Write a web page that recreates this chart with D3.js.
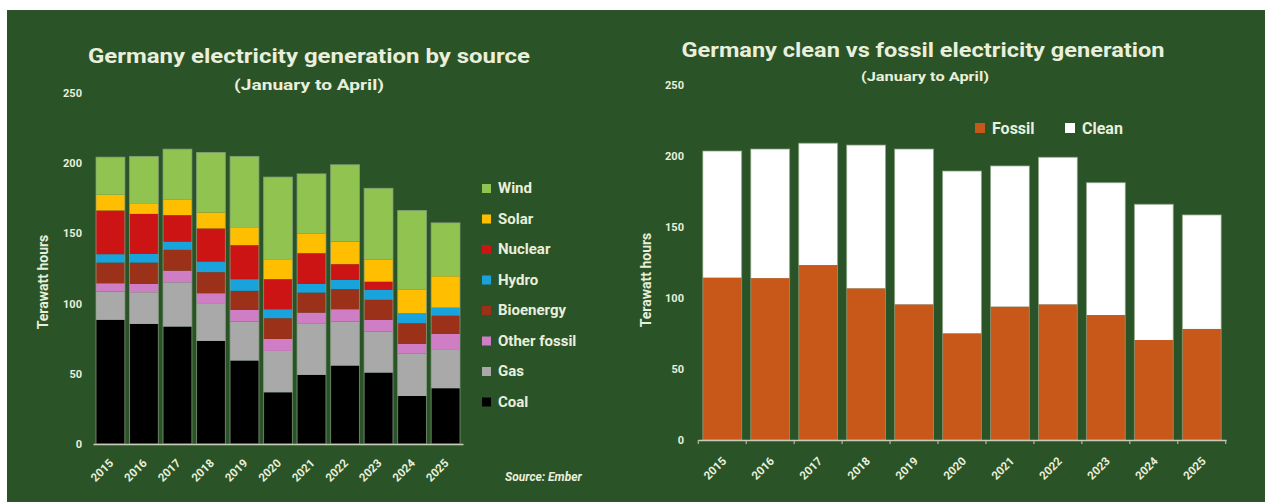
<!DOCTYPE html>
<html>
<head>
<meta charset="utf-8">
<script src="https://cdn.jsdelivr.net/npm/d3@7"></script>
<style>
  html, body { margin: 0; padding: 0; background: #ffffff; }
  svg { display: block; }
  text { font-family: Roboto, "Open Sans", sans-serif; font-weight: 700; fill: #e9efdc; }
</style>
</head>
<body>
<svg id="chart" width="1265" height="502"></svg>
<script>
// Years shown on both panels
const years = ["2015","2016","2017","2018","2019","2020","2021","2022","2023","2024","2025"];

// Generation by source, TWh (January to April)
const coal        = [88.4, 85.5, 83.6, 73.4, 59.4, 36.8, 49.2, 55.8, 50.8, 34.2, 39.7];
const gas         = [20.2, 22.6, 31.6, 26.9, 27.8, 29.5, 36.8, 31.4, 29.2, 30.4, 27.3];
const otherFossil = [ 5.9,  5.9,  8.3,  7.1,  8.3,  8.5,  7.6,  8.8,  8.4,  6.7, 11.4];
const bioenergy   = [14.7, 15.2, 14.8, 15.0, 13.6, 14.8, 14.2, 14.3, 14.3, 14.7, 13.0];
const hydro       = [ 6.0,  6.2,  5.9,  7.6,  8.3,  6.4,  6.2,  6.6,  7.2,  7.1,  5.7];
const nuclear     = [31.1, 28.5, 18.8, 23.5, 24.2, 21.4, 21.9, 11.2,  5.7,  0.0,  0.0];
const solar       = [11.2,  7.6, 10.9, 11.4, 12.8, 13.7, 13.8, 16.1, 15.6, 16.7, 22.4];
const wind        = [26.8, 33.3, 36.1, 42.7, 50.4, 59.0, 42.7, 54.7, 50.9, 56.5, 38.0];

// Clean vs fossil totals, TWh
const fossil = [114.3, 114.0, 123.2, 106.8, 95.5, 75.1, 93.9, 95.5, 88.0, 70.4, 78.2];
const clean  = [ 89.2,  90.9,  85.8, 100.9, 109.4, 114.3, 99.1, 103.6, 93.2, 95.6, 80.3];

// Axis ticks
const yTicks = [0, 50, 100, 150, 200, 250];

// Series order from bottom to top of the stack
const sourceNames  = ["Coal", "Gas", "Other fossil", "Bioenergy", "Hydro", "Nuclear", "Solar", "Wind"];
const sourceSeries = [coal, gas, otherFossil, bioenergy, hydro, nuclear, solar, wind];
const sourceColors = ["#000000", "#a9a9a9", "#cf7ec6", "#9c3119", "#19a3dc", "#cc1414", "#ffbf00", "#90c350"];

const splitNames  = ["Fossil", "Clean"];
const splitSeries = [fossil, clean];
const splitColors = ["#c8581a", "#ffffff"];

const svg = d3.select("#chart");

// dark green panel background
svg.append("rect")
  .attr("x", 7).attr("y", 10)
  .attr("width", 1258).attr("height", 492)
  .attr("fill", "#2a5427");

function rowsFrom(names, series) {
  return years.map((y, i) => {
    const row = { year: y };
    names.forEach((n, k) => { row[n] = series[k][i]; });
    return row;
  });
}

function drawStacked(opts) {
  const g = svg.append("g");
  const x = d3.scaleBand().domain(years).range(opts.xRange)
    .paddingInner(opts.padIn).paddingOuter(opts.padOut);
  const y = d3.scaleLinear().domain([0, 250]).range(opts.yRange);

  const rows = rowsFrom(opts.names, opts.series);
  const stacked = d3.stack().keys(opts.names)(rows);

  g.selectAll("g.layer").data(stacked).join("g")
    .attr("class", "layer")
    .attr("fill", (d, i) => opts.colors[i])
    .selectAll("rect").data(d => d).join("rect")
      .attr("x", d => x(d.data.year))
      .attr("width", x.bandwidth())
      .attr("y", d => y(d[1]))
      .attr("height", d => Math.max(0, y(d[0]) - y(d[1])));

  // thin light outline around each column
  g.selectAll("rect.outline").data(rows).join("rect")
    .attr("class", "outline")
    .attr("x", d => x(d.year))
    .attr("width", x.bandwidth())
    .attr("y", d => y(d3.sum(opts.names, n => d[n])))
    .attr("height", d => y(0) - y(d3.sum(opts.names, n => d[n])))
    .attr("fill", "none")
    .attr("stroke", "#8fa486")
    .attr("stroke-opacity", 0.7)
    .attr("stroke-width", 1);

  // y axis labels
  const ya = g.append("g")
    .attr("transform", `translate(${opts.yLabelX},0)`)
    .call(d3.axisLeft(y).tickValues(yTicks).tickSize(0).tickPadding(0));
  ya.select(".domain").remove();
  ya.selectAll("text")
    .style("font-size", "11px").style("font-weight", "700")
    .style("font-family", "Roboto, sans-serif").attr("fill", "#e9efdc");

  // x axis
  const xa = g.append("g")
    .attr("transform", `translate(0,${y(0)})`)
    .call(d3.axisBottom(x).tickSize(0).tickPadding(0));
  xa.select(".domain").attr("stroke", "#c9ccb8").attr("stroke-width", 1.5);
  xa.selectAll(".tick text")
    .attr("text-anchor", "end")
    .attr("transform", `translate(${opts.xLabelDx},${opts.xLabelDy}) rotate(-45)`)
    .attr("dy", "0.35em")
    .style("font-size", "11.5px").style("font-weight", "700")
    .style("font-family", "Roboto, sans-serif").attr("fill", "#e9efdc");

  if (opts.boundaryTicks) {
    const step = x.step();
    const bounds = years.map(yr => x(yr) - step * x.paddingInner() / 2)
      .concat([x(years[years.length - 1]) + x.bandwidth() + step * x.paddingInner() / 2]);
    g.selectAll("line.btick").data(bounds).join("line")
      .attr("x1", d => d).attr("x2", d => d)
      .attr("y1", y(0)).attr("y2", y(0) + 4)
      .attr("stroke", "#c9ccb8").attr("stroke-width", 1);
  }

  // y axis title
  g.append("text")
    .attr("transform", `translate(${opts.yTitleX},${opts.yTitleY}) rotate(-90)`)
    .attr("text-anchor", "middle")
    .style("font-size", "14px")
    .text("Terawatt hours");

  return { x, y, g };
}

function fitText(sel, width) {
  const w = sel.node().getComputedTextLength();
  if (Math.abs(w - width) > 2) sel.attr("textLength", width).attr("lengthAdjust", "spacingAndGlyphs");
}

// ---- Left panel: generation by source ----
drawStacked({
  names: sourceNames, series: sourceSeries, colors: sourceColors,
  xRange: [93, 463], padIn: 0.14, padOut: 0.09,
  yRange: [444, 93], yLabelX: 82,
  xLabelDx: 1, xLabelDy: 17, boundaryTicks: false,
  yTitleX: 48, yTitleY: 282
});

const t1 = svg.append("text").attr("x", 309).attr("y", 63)
  .attr("text-anchor", "middle").style("font-size", "21px")
  .text("Germany electricity generation by source");
fitText(t1, 442);
const s1 = svg.append("text").attr("x", 309).attr("y", 90)
  .attr("text-anchor", "middle").style("font-size", "14px")
  .text("(January to April)");
fitText(s1, 150);

// legend, top entry first
const legendItems = sourceNames.map((n, i) => ({ name: n, color: sourceColors[i] })).reverse();
const leg = svg.append("g");
leg.selectAll("rect").data(legendItems).join("rect")
  .attr("x", 482).attr("y", (d, i) => 188 + i * 30.5 - 4)
  .attr("width", 9).attr("height", 9)
  .attr("fill", d => d.color);
leg.selectAll("text").data(legendItems).join("text")
  .attr("x", 498).attr("y", (d, i) => 188 + i * 30.5)
  .attr("dy", "0.35em")
  .style("font-size", "15px")
  .text(d => d.name);

svg.append("text").attr("x", 505).attr("y", 481)
  .style("font-size", "12px").style("font-style", "italic")
  .text("Source: Ember");

// ---- Right panel: clean vs fossil ----
drawStacked({
  names: splitNames, series: splitSeries, colors: splitColors,
  xRange: [698, 1226], padIn: 0.19, padOut: 0.1,
  yRange: [440, 85], yLabelX: 684,
  xLabelDx: 2, xLabelDy: 19, boundaryTicks: true,
  yTitleX: 651, yTitleY: 280
});

const t2 = svg.append("text").attr("x", 923).attr("y", 57)
  .attr("text-anchor", "middle").style("font-size", "21px")
  .text("Germany clean vs fossil electricity generation");
fitText(t2, 483);
const s2 = svg.append("text").attr("x", 925).attr("y", 81)
  .attr("text-anchor", "middle").style("font-size", "12px")
  .text("(January to April)");
fitText(s2, 128);

const leg2 = svg.append("g");
const leg2Pos = [975, 1065];
leg2.selectAll("rect").data(splitNames).join("rect")
  .attr("x", (d, i) => leg2Pos[i]).attr("y", 123)
  .attr("width", 10).attr("height", 10)
  .attr("fill", (d, i) => splitColors[i]);
leg2.selectAll("text").data(splitNames).join("text")
  .attr("x", (d, i) => leg2Pos[i] + 17).attr("y", 128)
  .attr("dy", "0.35em")
  .style("font-size", "16px")
  .text(d => d);
</script>
</body>
</html>
